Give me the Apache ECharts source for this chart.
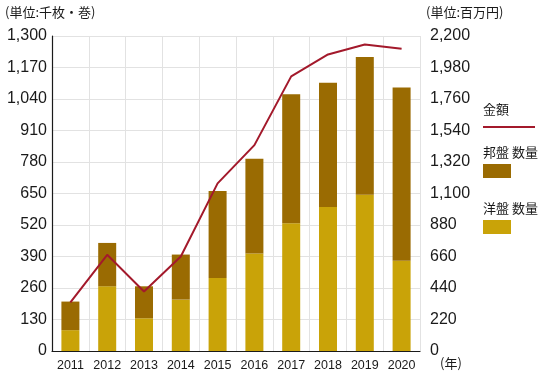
<!DOCTYPE html>
<html>
<head>
<meta charset="utf-8">
<script src="https://cdn.jsdelivr.net/npm/echarts@6/dist/echarts.min.js"></script>
<style>html,body{margin:0;padding:0;background:#fff;}#c{width:551px;height:380px;}</style>
</head>
<body>
<div id="c"></div>
<script>
const years = ['2011','2012','2013','2014','2015','2016','2017','2018','2019','2020'];
const hoban = [118, 179, 132, 186, 359, 391, 533, 513, 568, 715];   // 邦盤 数量
const yoban = [86, 267, 135, 212, 301, 402, 527, 594, 645, 372];    // 洋盤 数量
const kingaku = [340, 672, 416, 660, 1171, 1438, 1918, 2071, 2141, 2111]; // 金額
const leftTicks = {min: 0, max: 1300, interval: 130};
const rightTicks = {min: 0, max: 2200, interval: 220};

const FONT = '"Liberation Sans", "Noto Sans CJK JP", sans-serif';
const JP = '"Noto Sans CJK JP", sans-serif';
const chart = echarts.init(document.getElementById('c'));
chart.setOption({
  animation: false,
  backgroundColor: '#fff',
  grid: {left: 52, right: 131, top: 36, bottom: 29},
  xAxis: {
    type: 'category', data: years,
    axisLine: {lineStyle: {color: '#1a1a1a', width: 1.2}},
    axisTick: {show: false},
    axisLabel: {color: '#1a1a1a', fontSize: 12.5, fontFamily: FONT, margin: 8},
    splitLine: {show: true, lineStyle: {color: '#e2e2e2'}}
  },
  yAxis: [{
    type: 'value', min: leftTicks.min, max: leftTicks.max, interval: leftTicks.interval,
    axisLine: {show: true, lineStyle: {color: '#1a1a1a', width: 1.2}},
    axisTick: {show: false},
    axisLabel: {color: '#1a1a1a', fontSize: 16, fontFamily: FONT, margin: 5,
      formatter: v => v.toLocaleString('en-US')},
    splitLine: {lineStyle: {color: '#e2e2e2'}}
  }, {
    type: 'value', min: rightTicks.min, max: rightTicks.max, interval: rightTicks.interval,
    axisLine: {show: false},
    axisTick: {show: false},
    axisLabel: {color: '#1a1a1a', fontSize: 16, fontFamily: FONT, margin: 10,
      formatter: v => v.toLocaleString('en-US')},
    splitLine: {show: false}
  }],
  legend: [{
    data: [{name: '金額', icon: 'rect'}], left: 483, top: 126, itemWidth: 52, itemHeight: 2,
    formatter: () => '', itemGap: 0, padding: 0, selectedMode: false
  }, {
    data: [{name: '邦盤 数量', icon: 'rect'}], left: 483, top: 164, itemWidth: 28, itemHeight: 14,
    formatter: () => '', padding: 0, selectedMode: false
  }, {
    data: [{name: '洋盤 数量', icon: 'rect'}], left: 483, top: 220, itemWidth: 28, itemHeight: 14,
    formatter: () => '', padding: 0, selectedMode: false
  }],
  graphic: [
    {type: 'text', left: 5, top: 6, style: {text: '(単位:千枚・巻)', font: '13px ' + JP, fill: '#1a1a1a'}},
    {type: 'text', left: 426, top: 6, style: {text: '(単位:百万円)', font: '13px ' + JP, fill: '#1a1a1a'}},
    {type: 'text', left: 440, top: 357, style: {text: '(年)', font: '13px ' + JP, fill: '#1a1a1a'}},
    {type: 'text', left: 483, top: 103, style: {text: '金額', font: '13px ' + JP, fill: '#1a1a1a'}},
    {type: 'text', left: 483, top: 146, style: {text: '邦盤 数量', font: '13px ' + JP, fill: '#1a1a1a'}},
    {type: 'text', left: 483, top: 202, style: {text: '洋盤 数量', font: '13px ' + JP, fill: '#1a1a1a'}}
  ],
  series: [{
    name: '洋盤 数量', type: 'bar', stack: 'q', data: yoban, barWidth: 18,
    itemStyle: {color: '#c9a308'}
  }, {
    name: '邦盤 数量', type: 'bar', stack: 'q', data: hoban, barWidth: 18,
    itemStyle: {color: '#9a6b02'}
  }, {
    name: '金額', type: 'line', yAxisIndex: 1, data: kingaku, symbol: 'none',
    lineStyle: {color: '#a3192b', width: 2}, itemStyle: {color: '#a3192b'}, z: 5
  }]
});
</script>
</body>
</html>
